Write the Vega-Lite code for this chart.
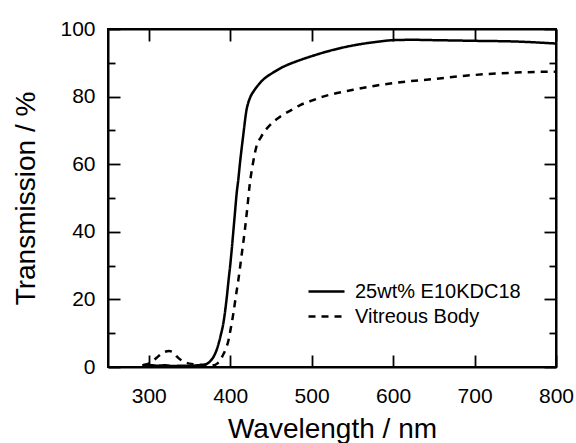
{
  "$schema": "https://vega.github.io/schema/vega-lite/v6.json",
  "width": 448,
  "height": 338,
  "autosize": {"type": "none"},
  "padding": {"left": 108, "top": 29, "right": 20, "bottom": 76},
  "background": "white",
  "config": {
    "font": "Liberation Sans",
    "view": {"stroke": "black", "strokeWidth": 2},
    "axis": {
      "grid": false,
      "domainColor": "black",
      "domainWidth": 2,
      "tickColor": "black",
      "tickWidth": 1.8,
      "labelColor": "black",
      "labelFont": "Liberation Sans",
      "labelFontSize": 21,
      "titleFont": "Liberation Sans",
      "titleFontSize": 28,
      "titleFontWeight": "normal",
      "titleColor": "black",
      "labelFlush": false,
      "labelOverlap": false
    },
    "legend": {
      "labelFont": "Liberation Sans",
      "labelFontSize": 20,
      "labelColor": "black",
      "labelLimit": 0,
      "padding": 0
    }
  },
  "data": {
    "values": [
      {"wl": 292, "T": 0.5, "series": "25wt% E10KDC18"},
      {"wl": 300, "T": 0.6, "series": "25wt% E10KDC18"},
      {"wl": 310, "T": 0.4, "series": "25wt% E10KDC18"},
      {"wl": 320, "T": 0.5, "series": "25wt% E10KDC18"},
      {"wl": 330, "T": 0.3, "series": "25wt% E10KDC18"},
      {"wl": 340, "T": 0.4, "series": "25wt% E10KDC18"},
      {"wl": 350, "T": 0.3, "series": "25wt% E10KDC18"},
      {"wl": 360, "T": 0.5, "series": "25wt% E10KDC18"},
      {"wl": 365, "T": 0.6, "series": "25wt% E10KDC18"},
      {"wl": 370, "T": 0.8, "series": "25wt% E10KDC18"},
      {"wl": 375, "T": 1.6, "series": "25wt% E10KDC18"},
      {"wl": 380, "T": 3.2, "series": "25wt% E10KDC18"},
      {"wl": 384, "T": 5.5, "series": "25wt% E10KDC18"},
      {"wl": 388, "T": 9, "series": "25wt% E10KDC18"},
      {"wl": 392, "T": 13.5, "series": "25wt% E10KDC18"},
      {"wl": 396, "T": 21, "series": "25wt% E10KDC18"},
      {"wl": 398, "T": 25.7, "series": "25wt% E10KDC18"},
      {"wl": 400, "T": 30, "series": "25wt% E10KDC18"},
      {"wl": 402, "T": 35, "series": "25wt% E10KDC18"},
      {"wl": 404, "T": 40.5, "series": "25wt% E10KDC18"},
      {"wl": 406, "T": 46, "series": "25wt% E10KDC18"},
      {"wl": 408, "T": 51.5, "series": "25wt% E10KDC18"},
      {"wl": 410, "T": 55.5, "series": "25wt% E10KDC18"},
      {"wl": 412, "T": 60.3, "series": "25wt% E10KDC18"},
      {"wl": 414, "T": 64.5, "series": "25wt% E10KDC18"},
      {"wl": 416, "T": 68.5, "series": "25wt% E10KDC18"},
      {"wl": 418, "T": 72.5, "series": "25wt% E10KDC18"},
      {"wl": 420, "T": 76, "series": "25wt% E10KDC18"},
      {"wl": 422, "T": 78, "series": "25wt% E10KDC18"},
      {"wl": 425, "T": 80, "series": "25wt% E10KDC18"},
      {"wl": 430, "T": 82, "series": "25wt% E10KDC18"},
      {"wl": 435, "T": 83.6, "series": "25wt% E10KDC18"},
      {"wl": 440, "T": 84.9, "series": "25wt% E10KDC18"},
      {"wl": 445, "T": 85.9, "series": "25wt% E10KDC18"},
      {"wl": 450, "T": 86.7, "series": "25wt% E10KDC18"},
      {"wl": 465, "T": 88.8, "series": "25wt% E10KDC18"},
      {"wl": 480, "T": 90.3, "series": "25wt% E10KDC18"},
      {"wl": 498, "T": 91.8, "series": "25wt% E10KDC18"},
      {"wl": 526, "T": 93.8, "series": "25wt% E10KDC18"},
      {"wl": 557, "T": 95.4, "series": "25wt% E10KDC18"},
      {"wl": 580, "T": 96.2, "series": "25wt% E10KDC18"},
      {"wl": 600, "T": 96.7, "series": "25wt% E10KDC18"},
      {"wl": 625, "T": 96.8, "series": "25wt% E10KDC18"},
      {"wl": 650, "T": 96.7, "series": "25wt% E10KDC18"},
      {"wl": 700, "T": 96.5, "series": "25wt% E10KDC18"},
      {"wl": 750, "T": 96.3, "series": "25wt% E10KDC18"},
      {"wl": 800, "T": 95.7, "series": "25wt% E10KDC18"},
      {"wl": 293, "T": 0.6, "series": "Vitreous Body"},
      {"wl": 300, "T": 1, "series": "Vitreous Body"},
      {"wl": 305, "T": 1.8, "series": "Vitreous Body"},
      {"wl": 310, "T": 2.8, "series": "Vitreous Body"},
      {"wl": 315, "T": 3.8, "series": "Vitreous Body"},
      {"wl": 320, "T": 4.5, "series": "Vitreous Body"},
      {"wl": 325, "T": 4.7, "series": "Vitreous Body"},
      {"wl": 330, "T": 4.4, "series": "Vitreous Body"},
      {"wl": 335, "T": 3, "series": "Vitreous Body"},
      {"wl": 340, "T": 2, "series": "Vitreous Body"},
      {"wl": 345, "T": 1.3, "series": "Vitreous Body"},
      {"wl": 350, "T": 1, "series": "Vitreous Body"},
      {"wl": 360, "T": 0.7, "series": "Vitreous Body"},
      {"wl": 370, "T": 0.5, "series": "Vitreous Body"},
      {"wl": 380, "T": 0.5, "series": "Vitreous Body"},
      {"wl": 384, "T": 1, "series": "Vitreous Body"},
      {"wl": 388, "T": 2, "series": "Vitreous Body"},
      {"wl": 390, "T": 3, "series": "Vitreous Body"},
      {"wl": 394, "T": 5, "series": "Vitreous Body"},
      {"wl": 398, "T": 8, "series": "Vitreous Body"},
      {"wl": 400, "T": 10.5, "series": "Vitreous Body"},
      {"wl": 404, "T": 16, "series": "Vitreous Body"},
      {"wl": 407, "T": 21, "series": "Vitreous Body"},
      {"wl": 410, "T": 25.7, "series": "Vitreous Body"},
      {"wl": 414, "T": 33, "series": "Vitreous Body"},
      {"wl": 418, "T": 40.5, "series": "Vitreous Body"},
      {"wl": 421, "T": 47, "series": "Vitreous Body"},
      {"wl": 424, "T": 54, "series": "Vitreous Body"},
      {"wl": 428, "T": 60.3, "series": "Vitreous Body"},
      {"wl": 432, "T": 65, "series": "Vitreous Body"},
      {"wl": 438, "T": 68.1, "series": "Vitreous Body"},
      {"wl": 449, "T": 71.6, "series": "Vitreous Body"},
      {"wl": 461, "T": 74, "series": "Vitreous Body"},
      {"wl": 475, "T": 76, "series": "Vitreous Body"},
      {"wl": 486, "T": 77.5, "series": "Vitreous Body"},
      {"wl": 500, "T": 78.8, "series": "Vitreous Body"},
      {"wl": 514, "T": 80, "series": "Vitreous Body"},
      {"wl": 530, "T": 81, "series": "Vitreous Body"},
      {"wl": 551, "T": 82, "series": "Vitreous Body"},
      {"wl": 580, "T": 83.3, "series": "Vitreous Body"},
      {"wl": 600, "T": 84, "series": "Vitreous Body"},
      {"wl": 650, "T": 85.2, "series": "Vitreous Body"},
      {"wl": 700, "T": 86.4, "series": "Vitreous Body"},
      {"wl": 750, "T": 87.1, "series": "Vitreous Body"},
      {"wl": 800, "T": 87.4, "series": "Vitreous Body"}
    ]
  },
  "layer": [
    {
      "transform": [{"filter": "datum.series === '25wt% E10KDC18'"}],
      "mark": {"type": "line", "color": "black", "strokeWidth": 2.5, "interpolate": "monotone", "clip": true},
      "encoding": {
        "x": {
          "field": "wl", "type": "quantitative",
          "scale": {"domain": [250, 800], "nice": false, "zero": false},
          "axis": {
            "orient": "bottom", "title": "Wavelength / nm",
            "values": [300, 400, 500, 600, 700, 800],
            "tickSize": -12, "labelPadding": 30, "titlePadding": 9
          }
        },
        "y": {
          "field": "T", "type": "quantitative",
          "scale": {"domain": [0, 100], "nice": false},
          "axis": {
            "orient": "left", "title": "Transmission / %",
            "values": [0, 10, 20, 30, 40, 50, 60, 70, 80, 90, 100],
            "labelExpr": "datum.value % 20 === 0 ? datum.label : ''",
            "tickSize": {"condition": {"test": "datum.value % 20 === 0", "value": -12}, "value": -7},
            "labelPadding": 25, "titlePadding": 19
          }
        },
        "strokeDash": {
          "field": "series", "type": "nominal",
          "scale": {"domain": ["25wt% E10KDC18", "Vitreous Body"], "range": [[1, 0], [7, 6]]},
          "legend": {
            "title": null, "orient": "none", "legendX": 208, "legendY": 252,
            "symbolType": "M-2,0H2", "symbolSize": 324, "symbolStrokeWidth": 2.5,
            "symbolStrokeColor": "black", "symbolFillColor": "transparent",
            "labelOffset": 18, "rowPadding": 4
          }
        }
      }
    },
    {
      "transform": [{"filter": "datum.series === 'Vitreous Body'"}],
      "mark": {"type": "line", "color": "black", "strokeWidth": 2.5, "interpolate": "monotone", "clip": true},
      "encoding": {
        "x": {
          "field": "wl", "type": "quantitative",
          "axis": {
            "orient": "top", "title": null, "labels": false,
            "values": [300, 400, 500, 600, 700, 800],
            "tickSize": -12
          }
        },
        "y": {
          "field": "T", "type": "quantitative",
          "axis": {
            "orient": "right", "title": null, "labels": false,
            "values": [0, 10, 20, 30, 40, 50, 60, 70, 80, 90, 100],
            "tickSize": {"condition": {"test": "datum.value % 20 === 0", "value": -12}, "value": -7}
          }
        },
        "strokeDash": {"field": "series", "type": "nominal"}
      }
    }
  ],
  "resolve": {"axis": {"x": "independent", "y": "independent"}}
}
